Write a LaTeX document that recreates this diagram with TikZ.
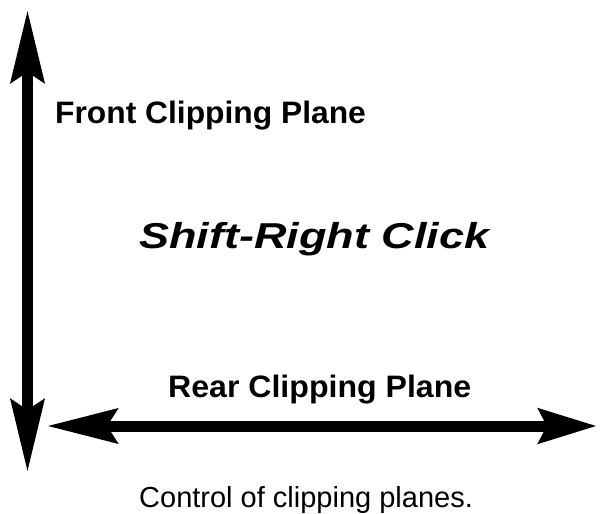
\documentclass[tikz,border=0pt]{standalone}
\usepackage{fontspec}
\setmainfont{Liberation Sans}
\usetikzlibrary{arrows.meta}
\tikzset{
  bigarrow/.style={line width=11pt, {Stealth[length=72pt,width=33pt,inset=10pt]}-{Stealth[length=72pt,width=33pt,inset=10pt]}},
  harrow/.style={line width=11pt, {Stealth[length=70pt,width=34pt,inset=10pt]}-{Stealth[length=58pt,width=34pt,inset=8pt]}},
  lbl/.style={anchor=base west, inner sep=0pt, font=\fontsize{31}{37}\selectfont\bfseries},
  captiontext/.style={anchor=base west, inner sep=0pt, font=\fontsize{29}{35}\selectfont}
}
\begin{document}
\begin{tikzpicture}[x=1pt,y=-1pt]
\useasboundingbox (0,0) rectangle (600,514);
\coordinate (vt) at (27.5,10);
\coordinate (vb) at (27.5,472);
\coordinate (hl) at (47,426);
\coordinate (hr) at (597,426);
\draw[bigarrow] (vt) -- (vb);
\draw[harrow] (hl) -- (hr);
\node[lbl] (front) at (55,123) {\scalebox{1.025}[1]{Front Clipping Plane}};
\node[lbl, font=\fontsize{36}{43}\selectfont\bfseries\itshape] (shift) at (139,248) {\scalebox{1.25}[1]{Shift-Right Click}};
\node[lbl] (rear) at (168,397) {\scalebox{1.035}[1]{Rear Clipping Plane}};
\node[captiontext] (caption) at (139,507) {Control of clipping planes.};
\end{tikzpicture}
\end{document}
